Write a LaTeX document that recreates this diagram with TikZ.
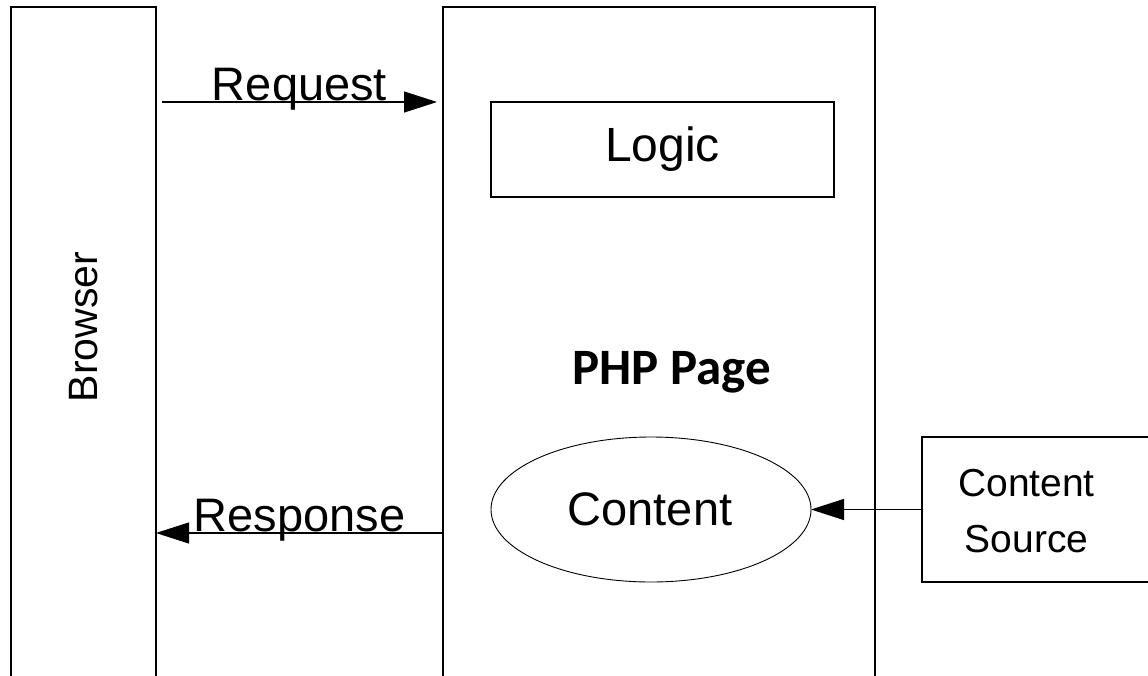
\documentclass[tikz,border=0pt]{standalone}
\usepackage{fontspec}
\setmainfont{Liberation Sans}
\newfontfamily\calibri{Carlito}
\usetikzlibrary{arrows.meta,shapes.geometric}
\tikzset{
  box/.style={draw, line width=1.4pt, outer sep=0pt, inner sep=0pt, anchor=north west},
  arr/.style={line width=1.2pt, -{Triangle[length=33pt,width=21pt]}},
  lbl/.style={inner sep=0pt, outer sep=0pt},
}
\begin{document}
\begin{tikzpicture}[x=1pt, y=-1pt]
  \useasboundingbox (0,0) rectangle (1148,675);
  \clip (0,0) rectangle (1148,675);
  \fill[white] (0,0) rectangle (1148,675);

  % Browser column (open at the bottom)
  \node[box, minimum width=145pt, minimum height=720pt] (browser) at (11,7) {};
  \node[lbl, rotate=90, font=\fontsize{41}{49}\selectfont] (browserlabel) at (84,327) {Browser};

  % PHP page column
  \node[box, minimum width=432pt, minimum height=720pt] (php) at (443,7) {};
  \node[lbl, font=\calibri\bfseries\fontsize{51}{61}\selectfont] (phplabel) at (671.5,372) {PHP Page};

  % Logic block
  \node[box, line width=1.2pt, minimum width=343pt, minimum height=95pt,
        font=\fontsize{48}{58}\selectfont] (logic) at (491,102) {};
  \node[lbl, font=\fontsize{48}{58}\selectfont] (logiclabel) at (logic.center) {Logic};

  % Content ellipse
  \node[draw, ellipse, line width=0.9pt, inner sep=0pt, outer sep=0pt,
        minimum width=320pt, minimum height=145pt,
        font=\fontsize{47}{56}\selectfont] (content) at (651,509.5) {};
  \node[lbl, font=\fontsize{47}{56}\selectfont] (contentlabel) at (650,509) {Content};

  % Content source (runs off the right edge)
  \node[box, line width=1.2pt, minimum width=260pt, minimum height=145pt] (source) at (922,437) {};
  \node[lbl, align=center, font=\fontsize{39}{56}\selectfont] (sourcelabel) at (1026.5,511) {Content\\Source};

  % Connectors
  \coordinate (req) at (0,102);
  \coordinate (resp) at (0,533);
  \draw[arr, shorten <=6pt, shorten >=6pt] (browser.east |- req) -- (php.west |- req)
    node[midway, anchor=base, yshift=2pt, font=\fontsize{47}{56}\selectfont] {Request};
  \draw[arr] (php.west |- resp) -- (browser.east |- resp)
    node[midway, anchor=base, yshift=1.5pt, font=\fontsize{47}{56}\selectfont] {Response};
  \draw[arr] (source.west) -- (content.east);
\end{tikzpicture}
\end{document}
